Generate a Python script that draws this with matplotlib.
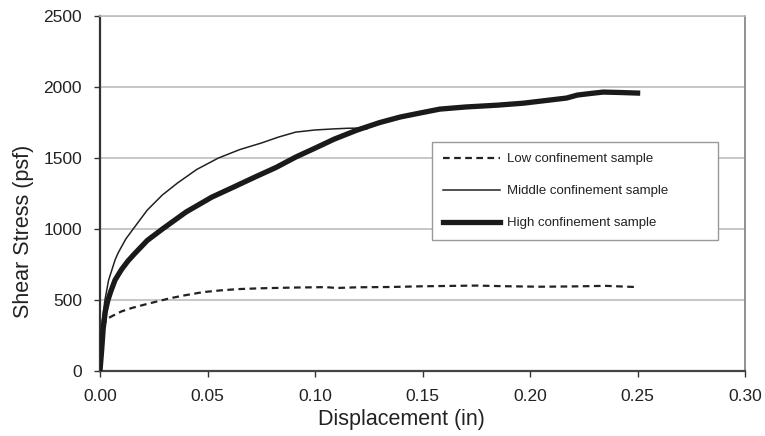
import matplotlib

matplotlib.use("Agg")
import matplotlib.pyplot as plt

plt.rcParams["font.family"] = ["Liberation Sans", "DejaVu Sans"]

# Low confinement sample (dashed)
low_x = [0, 0.0005, 0.0015, 0.003, 0.006, 0.01, 0.015, 0.02, 0.027, 0.033,
         0.04, 0.048, 0.056, 0.064, 0.075, 0.09, 0.105, 0.11, 0.12, 0.135,
         0.15, 0.165, 0.175, 0.19, 0.205, 0.22, 0.235, 0.249]
low_y = [0, 150, 300, 365, 390, 420, 445, 465, 492, 514,
         535, 556, 568, 577, 583, 588, 591, 585, 590, 592,
         597, 600, 602, 597, 594, 596, 600, 592]

# Middle confinement sample (thin solid)
mid_x = [0, 0.0005, 0.001, 0.0023, 0.004, 0.007, 0.0084, 0.012, 0.0154, 0.022,
         0.029, 0.036, 0.045, 0.055, 0.065, 0.075, 0.083, 0.091, 0.1, 0.109,
         0.115, 0.12, 0.124]
mid_y = [0, 200, 350, 500, 640, 782, 831, 930, 1000, 1134,
         1240, 1324, 1420, 1500, 1560, 1606, 1648, 1683, 1698, 1706,
         1710, 1711, 1705]

# High confinement sample (thick solid)
high_x = [0, 0.0008, 0.0015, 0.0025, 0.0037, 0.005, 0.007, 0.01, 0.013, 0.016,
          0.022, 0.029, 0.04, 0.052, 0.062, 0.072, 0.082, 0.091, 0.1, 0.109,
          0.1195, 0.13, 0.1395, 0.148, 0.158, 0.17, 0.185, 0.197, 0.207, 0.217,
          0.222, 0.228, 0.234, 0.242, 0.25]
high_y = [0, 150, 300, 420, 500, 560, 641, 715, 775, 825,
          920, 1000, 1120, 1225, 1295, 1366, 1435, 1507, 1570, 1634,
          1697, 1750, 1789, 1815, 1845, 1860, 1873, 1887, 1905, 1923,
          1944, 1955, 1965, 1962, 1958]

x_ticks = [0.00, 0.05, 0.10, 0.15, 0.20, 0.25, 0.30]
y_ticks = [0, 500, 1000, 1500, 2000, 2500]

fig = plt.figure(figsize=(7.65, 4.36), dpi=100)
ax = fig.add_axes([0.1307, 0.149, 0.8433, 0.814])

ax.plot(low_x, low_y, color="#222222", linewidth=1.6, linestyle=(0, (3, 2)),
        label="Low confinement sample", zorder=3)
ax.plot(mid_x, mid_y, color="#222222", linewidth=1.1,
        label="Middle confinement sample", zorder=3)
ax.plot(high_x, high_y, color="#1a1a1a", linewidth=3.8,
        label="High confinement sample", zorder=4)

ax.set_xlim(0, 0.30)
ax.set_ylim(0, 2500)
ax.set_xticks(x_ticks)
ax.set_xticklabels([f"{v:.2f}" for v in x_ticks])
ax.set_yticks(y_ticks)
ax.tick_params(axis="both", labelsize=12.5, colors="#333333", length=4,
               width=1, pad=9)
ax.tick_params(axis="both", labelcolor="#222222")

ax.yaxis.grid(True, color="#bdbdbd", linewidth=1.2, zorder=0)
ax.set_axisbelow(True)

ax.spines["left"].set_color("#333333")
ax.spines["left"].set_linewidth(1.6)
ax.spines["bottom"].set_color("#444444")
ax.spines["bottom"].set_linewidth(1.6)
ax.spines["right"].set_color("#888888")
ax.spines["right"].set_linewidth(1.3)
ax.spines["top"].set_color("#bdbdbd")
ax.spines["top"].set_linewidth(1.2)

ax.set_xlabel("Displacement (in)", fontsize=15.5, color="#222222")
ax.xaxis.set_label_coords(0.468, -0.108)
ax.set_ylabel("Shear Stress (psf)", fontsize=15.5, color="#222222")
ax.yaxis.set_label_coords(-0.103, 0.394)

leg = ax.legend(loc="center", bbox_to_anchor=(0.515, 0.377, 0.443, 0.26),
                mode="expand", fontsize=9.5, frameon=True, fancybox=False,
                framealpha=1, edgecolor="#999999", handlelength=4.3,
                handletextpad=0.6, labelspacing=1.5, borderpad=0.8,
                borderaxespad=0)
leg.get_frame().set_linewidth(1.0)
for text in leg.get_texts():
    text.set_color("#222222")

fig.savefig("out.png", dpi=100)
